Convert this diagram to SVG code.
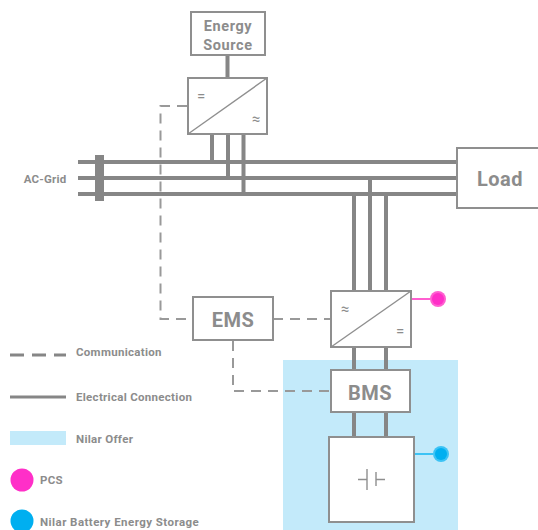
<svg xmlns="http://www.w3.org/2000/svg" width="538" height="530" viewBox="0 0 538 530">
<style>
text{font-family:"Roboto","Liberation Sans",sans-serif;font-weight:700;fill:#8c8c8c;text-anchor:middle}
.box{fill:#fff;stroke:#8f8f8f;stroke-width:2}
.el{fill:none;stroke:#868686;stroke-width:4}
.dash{fill:none;stroke:#999;stroke-width:2;stroke-dasharray:10 7}
.thin{fill:none;stroke:#8f8f8f;stroke-width:1.4}
.leg{font-size:11.5px;text-anchor:start;letter-spacing:.3px}
.sym{font-size:15px;font-weight:400}
</style>
<rect id="nilar-offer-area" x="283" y="360" width="175" height="170" fill="#c3eafa"/>
<g id="connectors">
<path class="el" d="M78 162H458M78 178H458M78 194H458"/>
<path class="el" d="M227.500 55V78M212 134V162M228 134V178M243.500 134V194M354 194V291M370 178V291M386 194V291M354 347V370M386 347V370M354 412V437M386 412V437"/>
<rect x="95" y="155" width="9" height="46" fill="#868686"/>
<path class="dash" d="M187 106H160.500V319H193M273 319H331M233 341V391H330"/>
<path d="M411 299H430" stroke="#ff5fd0" stroke-width="2" fill="none"/>
<path d="M414 454H433" stroke="#3cc3f5" stroke-width="2" fill="none"/>
</g>
<g id="energy-source"><rect class="box" x="191" y="12" width="74" height="43"/><text x="228" y="31" font-size="14.500" letter-spacing=".6">Energy</text><text x="228" y="50" font-size="14.500" letter-spacing=".6">Source</text></g>
<g id="inverter-top"><rect class="box" x="188" y="78" width="79" height="56"/><path class="thin" d="M188 134L267 78"/><text class="sym" x="201" y="101">=</text><text class="sym" x="256" y="124">≈</text></g>
<g id="ac-grid"><text x="45" y="183" font-size="11.500" letter-spacing=".2">AC-Grid</text></g>
<g id="load"><rect class="box" x="457" y="148" width="84" height="60"/><text x="500" y="186" font-size="20" letter-spacing=".5">Load</text></g>
<g id="ems"><rect class="box" x="193" y="297" width="80" height="43"/><text x="233" y="327" font-size="20" letter-spacing=".5">EMS</text></g>
<g id="pcs"><rect class="box" x="331" y="291" width="80" height="56"/><path class="thin" d="M331 347L411 291"/><text class="sym" x="345" y="314">≈</text><text class="sym" x="400" y="336">=</text>
<circle cx="438" cy="299" r="8" fill="#ff5fd0"/><circle cx="438" cy="299" r="6" fill="#ff2fc8"/></g>
<g id="bms"><rect class="box" x="331" y="370" width="79" height="42"/><text x="370" y="400" font-size="20" letter-spacing=".5">BMS</text></g>
<g id="battery"><rect class="box" x="329" y="437" width="85" height="85"/><path class="thin" d="M358 479.500H367M367 469V490M376 472V486M376 479.500H385"/>
<circle cx="441" cy="454" r="8" fill="#3cc3f5"/><circle cx="441" cy="454" r="6" fill="#00aff0"/></g>
<g id="legend">
<path d="M10 355H66" fill="none" stroke="#868686" stroke-width="3" stroke-dasharray="14 8"/>
<text class="leg" x="76" y="356">Communication</text>
<path d="M10 397H66" fill="none" stroke="#868686" stroke-width="3"/>
<text class="leg" x="76" y="401">Electrical Connection</text>
<rect x="10" y="431" width="56" height="14" fill="#c3eafa"/>
<text class="leg" x="76" y="443">Nilar Offer</text>
<circle cx="22" cy="480" r="11.500" fill="#ff2fc8"/>
<text class="leg" x="40" y="484">PCS</text>
<circle cx="22" cy="521" r="11.500" fill="#00aff0"/>
<text class="leg" x="40" y="526" style="letter-spacing:.45px">Nilar Battery Energy Storage</text>
</g>
</svg>
